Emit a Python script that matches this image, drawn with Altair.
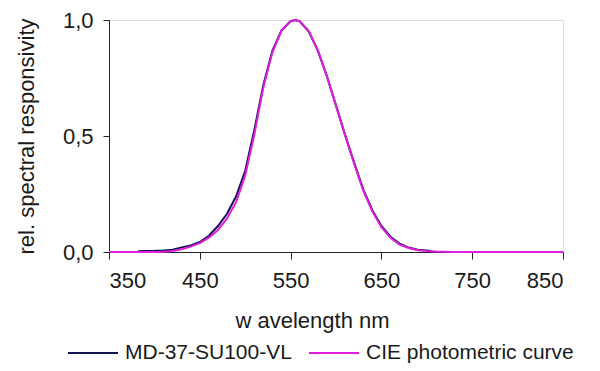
import altair as alt
import pandas as pd

# CIE photometric curve
cie_wl = [350, 360, 370, 380, 390, 400, 410, 420, 430, 440, 450, 460, 470, 480, 490,
          500, 510, 520, 530, 540, 550, 555, 560, 570, 580, 590, 600, 610, 620, 630,
          640, 650, 660, 670, 680, 690, 700, 710, 720, 730, 740, 750, 760, 770, 780,
          790, 800, 810, 820, 830, 840, 850]
cie_val = [0.0, 0.0, 0.0, 0.0, 0.0, 0.0, 0.001, 0.004, 0.012, 0.023, 0.038, 0.062, 0.095, 0.145, 0.215,
           0.330, 0.505, 0.710, 0.862, 0.954, 0.995, 1.0, 0.995, 0.952, 0.870, 0.757, 0.631, 0.503, 0.381, 0.265,
           0.175, 0.107, 0.061, 0.032, 0.017, 0.008, 0.004, 0.002, 0.001, 0.0, 0.0, 0.0, 0.0, 0.0, 0.0,
           0.0, 0.0, 0.0, 0.0, 0.0, 0.0, 0.0]

# MD-37-SU100-VL detector
md_wl = [382, 390, 400, 410, 420, 430, 440, 450, 460, 470, 480, 490, 500, 510, 520,
         530, 540, 550, 555, 560, 570, 580, 590, 600, 610, 620, 630, 640, 650, 660,
         670, 680, 690, 700, 705]
md_val = [0.003, 0.004, 0.005, 0.007, 0.010, 0.020, 0.028, 0.043, 0.070, 0.112, 0.165, 0.240, 0.350, 0.525, 0.720,
          0.868, 0.955, 0.995, 1.0, 0.994, 0.950, 0.868, 0.757, 0.632, 0.505, 0.385, 0.270, 0.180, 0.112, 0.066,
          0.036, 0.019, 0.010, 0.006, 0.004]

series_names = ["MD-37-SU100-VL", "CIE photometric curve"]
series_colors = ["#141452", "#e01ee0"]
x_ticks = [350, 450, 550, 650, 750, 850]
y_ticks = [0.0, 0.5, 1.0]

df = pd.concat([
    pd.DataFrame({"wl": md_wl, "val": md_val, "series": series_names[0], "order": 0}),
    pd.DataFrame({"wl": cie_wl, "val": cie_val, "series": series_names[1], "order": 1}),
])

FONT = "Liberation Sans"
TXT = "#1a1a1a"

chart = alt.Chart(df).mark_line(strokeWidth=2).encode(
    x=alt.X("wl:Q",
            scale=alt.Scale(domain=[350, 850], nice=False, zero=False),
            axis=alt.Axis(values=x_ticks, title="w avelength nm", grid=False,
                          domainColor="#222222", tickColor="#222222", tickSize=7,
                          labelFont=FONT, labelFontSize=22, labelColor=TXT,
                          labelPadding=11, titleFont=FONT, titleFontSize=22,
                          titleFontWeight="normal", titleColor=TXT,
                          titleX=203, titleY=58, titleAlign="center")),
    y=alt.Y("val:Q",
            scale=alt.Scale(domain=[0, 1], nice=False),
            axis=alt.Axis(values=y_ticks, grid=False,
                          labelExpr="replace(format(datum.value, '.1f'), '.', ',')",
                          title="rel. spectral responsivity",
                          domainColor="#222222", tickColor="#222222", tickSize=6,
                          labelFont=FONT, labelFontSize=22, labelColor=TXT,
                          labelPadding=10, titleFont=FONT, titleFontSize=22,
                          titleFontWeight="normal", titleColor=TXT,
                          titlePadding=24)),
    color=alt.Color("series:N",
                    scale=alt.Scale(domain=series_names, range=series_colors),
                    legend=alt.Legend(title=None, orient="none", direction="horizontal",
                                      legendX=-42, legendY=307,
                                      symbolType="stroke", symbolSize=2500,
                                      symbolStrokeWidth=2, labelFont=FONT,
                                      labelFontSize=21, labelColor=TXT, labelLimit=400,
                                      columnPadding=13, labelOffset=6)),
    order=alt.Order("order:Q"),
).properties(
    width=454, height=232,
    autosize=alt.AutoSizeParams(type="none"),
    padding={"left": 101, "top": 12, "right": 21, "bottom": 116},
).configure_view(
    stroke="#808080", strokeWidth=1.5
).configure(background="white")

chart.save("out.html", embed_options={"renderer": "svg", "actions": False})
